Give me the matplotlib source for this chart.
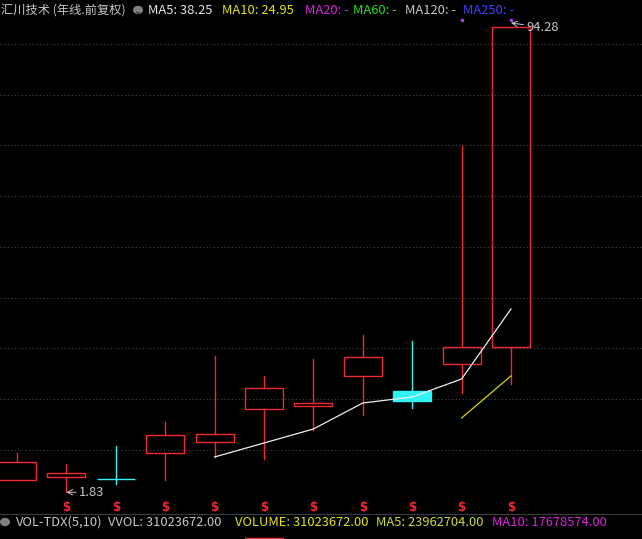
import numpy as np
import matplotlib
matplotlib.use("Agg")
from matplotlib import pyplot as plt
import matplotlib.patches as patches
import matplotlib.transforms as mtransforms

plt.rcParams["font.family"] = ["Noto Sans CJK SC", "DejaVu Sans"]

# yearly candles (前复权), oldest first
opens = [4.3, 4.9, 4.47, 9.6, 11.8, 18.4, 19.0, 24.9, 22.0, 27.3, 30.7]
closes = [7.8, 5.7, 4.47, 13.2, 13.4, 22.6, 19.6, 28.7, 20.0, 30.7, 94.28]
highs = [9.6, 7.5, 11.0, 15.8, 28.9, 24.9, 28.3, 33.1, 31.9, 70.6, 94.28]
lows = [4.3, 1.83, 3.5, 4.3, 8.8, 8.4, 14.2, 17.2, 18.6, 21.6, 23.3]

# moving averages as drawn (first index where they start)
ma5_start = 4
ma5_vals = [8.84, 11.62, 14.40, 19.57, 20.76, 24.34, 38.25]
ma10_start = 9
ma10_vals = [16.59, 24.95]

# small purple marks above the last two candles
mark_idx = [9, 10]
mark_vals = [95.7, 95.6]

# "$" markers under these candles
dollar_idx = [1, 2, 3, 4, 5, 6, 7, 8, 9, 10]

title_parts = [
    ("汇川技术 (年线.前复权)", "#c8c8c8", 1, 8.8),
    ("MA5: 38.25", "#e6e6e6", 148, 9.3),
    ("MA10: 24.95", "#e6e600", 222, 9.3),
    ("MA20: -", "#e020e0", 305, 9.3),
    ("MA60: -", "#20e020", 353, 9.3),
    ("MA120: -", "#c8c8c8", 405, 9.3),
    ("MA250: -", "#4a3cff", 463, 9.3),
]
vol_parts = [
    ("VOL-TDX(5,10)", "#c8c8c8", 16),
    ("VVOL: 31023672.00", "#c8c8c8", 108),
    ("VOLUME: 31023672.00", "#e6e600", 235),
    ("MA5: 23962704.00", "#d2dc32", 376),
    ("MA10: 17678574.00", "#e020e0", 492),
]

W, H = 642, 539
RED = "#f02830"
CYAN = "#30f4f4"
BODY_W = 0.77


def fx(x):
    return x / W


def fy(y):
    return 1 - y / H


fig = plt.figure(figsize=(W / 100, H / 100), dpi=100, facecolor="black")
ax = fig.add_axes([0, fy(514), 1, 514 / H])
ax.set_facecolor("black")
ax.set_xlim(-0.344, 12.652)
ax.set_ylim(-2.49, 99.65)
ax.axis("off")

# dotted grid
for k in range(9):
    ax.axhline(90.96 - 10.09 * k, color="#4a4a4a", lw=0.8, ls=(0, (1, 2.2)), zorder=0)

for i, (o, c, h, l) in enumerate(zip(opens, closes, highs, lows)):
    if c > o:
        ax.add_patch(patches.Rectangle((i - BODY_W / 2, o), BODY_W, c - o,
                                       fill=False, edgecolor=RED, lw=1.0, zorder=3))
        if h > c:
            ax.plot([i, i], [c, h], color=RED, lw=1.0, zorder=3)
        if l < o:
            ax.plot([i, i], [l, o], color=RED, lw=1.0, zorder=3)
    else:
        ax.plot([i, i], [l, h], color=CYAN, lw=1.0, zorder=3)
        ax.add_patch(patches.Rectangle((i - BODY_W / 2, c), BODY_W, o - c,
                                       facecolor=CYAN, edgecolor=CYAN, lw=1.0, zorder=3))

ax.plot(range(ma5_start, ma5_start + len(ma5_vals)), ma5_vals, color="#eeeeee", lw=0.9, zorder=4)
ax.plot(range(ma10_start, ma10_start + len(ma10_vals)), ma10_vals, color="#d8d800", lw=0.9, zorder=4)
ax.plot(mark_idx, mark_vals, ls="none", marker="s", ms=1.5, color="#a040e0", zorder=4)

# low / high labels
ax.annotate("1.83", xy=(1, min(lows)), xytext=(9, 0), textcoords="offset points",
            color="#c8c8c8", fontsize=9.3, va="center", ha="left",
            arrowprops=dict(arrowstyle="->", color="#c8c8c8", lw=0.7, shrinkA=0, shrinkB=0))
ax.annotate("94.28", xy=(10, max(highs) + 0.8), xytext=(11, -3), textcoords="offset points",
            color="#c8c8c8", fontsize=9.3, va="center", ha="left",
            arrowprops=dict(arrowstyle="->", color="#c8c8c8", lw=0.7, shrinkA=0, shrinkB=0))

trans = mtransforms.blended_transform_factory(ax.transData, ax.transAxes)
for i in dollar_idx:
    ax.text(i, 0.012, "$", transform=trans, color=RED, fontsize=8.5, fontweight="bold",
            ha="center", va="center", family="DejaVu Sans")

# title row
ty = fy(10)
for txt, col, x, fs in title_parts:
    fig.text(fx(x), ty, txt, color=col, fontsize=fs, va="center", ha="left")
fig.add_artist(patches.Circle((fx(138), ty), 5 / W, transform=fig.transFigure,
                              facecolor="#808080", edgecolor="none"))
fig.text(fx(138), fy(11), "⌄", color="#202020", fontsize=7, va="center", ha="center",
         family="DejaVu Sans")

# volume panel header
fig.add_artist(plt.Line2D([0, 1], [fy(514), fy(514)], transform=fig.transFigure,
                          color="#3c3c3c", lw=0.8))
vy = fy(522)
for txt, col, x in vol_parts:
    fig.text(fx(x), vy, txt, color=col, fontsize=9.3, va="center", ha="left")
fig.add_artist(patches.Circle((fx(5), vy), 5 / W, transform=fig.transFigure,
                              facecolor="#808080", edgecolor="none"))

ax_vol = fig.add_axes([0, 0, 1, 3 / H])
ax_vol.set_facecolor("black")
ax_vol.set_xlim(ax.get_xlim())
ax_vol.set_ylim(0, 1)
ax_vol.axis("off")
ax_vol.add_patch(patches.Rectangle((5 - BODY_W / 2, -1), BODY_W, 1.5,
                                   fill=False, edgecolor=RED, lw=1.0))

fig.savefig("out.png", dpi=100, facecolor="black")
